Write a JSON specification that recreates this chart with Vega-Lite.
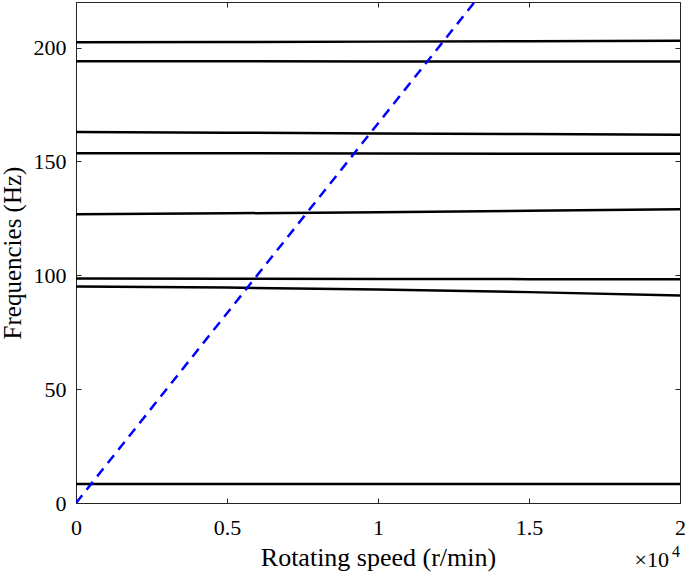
{
  "$schema": "https://vega.github.io/schema/vega-lite/v6.json",
  "width": 604,
  "height": 501,
  "autosize": {"type": "none"},
  "padding": {"left": 76, "top": 2, "right": 5, "bottom": 71},
  "background": "white",
  "config": {
    "view": {"stroke": "#262626", "strokeWidth": 1},
    "font": "Liberation Serif"
  },
  "datasets": {
    "modes": [
      {"mode": "m1", "speed": 0, "freq": 8.3}, {"mode": "m1", "speed": 0.5, "freq": 8.3}, {"mode": "m1", "speed": 1, "freq": 8.3}, {"mode": "m1", "speed": 1.5, "freq": 8.3}, {"mode": "m1", "speed": 2, "freq": 8.3},
      {"mode": "m2", "speed": 0, "freq": 95.1}, {"mode": "m2", "speed": 0.5, "freq": 94.6}, {"mode": "m2", "speed": 1, "freq": 93.8}, {"mode": "m2", "speed": 1.5, "freq": 92.6}, {"mode": "m2", "speed": 2, "freq": 91.1},
      {"mode": "m3", "speed": 0, "freq": 98.6}, {"mode": "m3", "speed": 0.5, "freq": 98.5}, {"mode": "m3", "speed": 1, "freq": 98.4}, {"mode": "m3", "speed": 1.5, "freq": 98.3}, {"mode": "m3", "speed": 2, "freq": 98.2},
      {"mode": "m4", "speed": 0, "freq": 126.8}, {"mode": "m4", "speed": 0.5, "freq": 127.2}, {"mode": "m4", "speed": 1, "freq": 127.7}, {"mode": "m4", "speed": 1.5, "freq": 128.3}, {"mode": "m4", "speed": 2, "freq": 129.0},
      {"mode": "m5", "speed": 0, "freq": 153.6}, {"mode": "m5", "speed": 0.5, "freq": 153.6}, {"mode": "m5", "speed": 1, "freq": 153.5}, {"mode": "m5", "speed": 1.5, "freq": 153.4}, {"mode": "m5", "speed": 2, "freq": 153.4},
      {"mode": "m6", "speed": 0, "freq": 162.9}, {"mode": "m6", "speed": 0.5, "freq": 162.6}, {"mode": "m6", "speed": 1, "freq": 162.3}, {"mode": "m6", "speed": 1.5, "freq": 162.0}, {"mode": "m6", "speed": 2, "freq": 161.7},
      {"mode": "m7", "speed": 0, "freq": 194.0}, {"mode": "m7", "speed": 0.5, "freq": 194.0}, {"mode": "m7", "speed": 1, "freq": 193.9}, {"mode": "m7", "speed": 1.5, "freq": 193.9}, {"mode": "m7", "speed": 2, "freq": 193.9},
      {"mode": "m8", "speed": 0, "freq": 202.3}, {"mode": "m8", "speed": 0.5, "freq": 202.4}, {"mode": "m8", "speed": 1, "freq": 202.6}, {"mode": "m8", "speed": 1.5, "freq": 202.8}, {"mode": "m8", "speed": 2, "freq": 203.0}
    ],
    "excitation": [
      {"speed": 0, "freq": 0},
      {"speed": 1.32, "freq": 220}
    ],
    "base": [
      {"speed": 2, "freq": 0, "label": "×10"}
    ],
    "exponent": [
      {"speed": 2, "freq": 0, "label": "4"}
    ]
  },
  "layer": [
    {
      "data": {"name": "modes"},
      "mark": {"type": "line", "color": "black", "strokeWidth": 2.5, "clip": true},
      "encoding": {
        "x": {"field": "speed", "type": "quantitative", "scale": {"domain": [0, 2], "nice": false},
              "axis": {"orient": "bottom", "values": [0, 0.5, 1, 1.5, 2], "format": "~g", "title": "Rotating speed (r/min)",
                       "grid": false, "domainColor": "#262626", "tickColor": "#262626", "tickSize": -5,
                       "labelFont": "Liberation Serif", "labelFontSize": 22, "labelColor": "black", "labelPadding": 19, "labelFlush": false,
                       "titleFont": "Liberation Serif", "titleFontSize": 26, "titleColor": "black", "titleFontWeight": "normal", "titlePadding": 6}},
        "y": {"field": "freq", "type": "quantitative", "scale": {"domain": [0, 220], "nice": false},
              "axis": {"orient": "left", "values": [0, 50, 100, 150, 200], "title": "Frequencies (Hz)",
                       "grid": false, "domainColor": "#262626", "tickColor": "#262626", "tickSize": -5,
                       "labelFont": "Liberation Serif", "labelFontSize": 22, "labelColor": "black", "labelPadding": 15, "labelFlush": false,
                       "titleFont": "Liberation Serif", "titleFontSize": 25, "titleColor": "black", "titleFontWeight": "normal", "titlePadding": 8}},
        "detail": {"field": "mode"}
      }
    },
    {
      "data": {"name": "excitation"},
      "mark": {"type": "line", "color": "#0000FF", "strokeWidth": 2.5, "strokeDash": [10, 7], "clip": true},
      "encoding": {
        "x": {"field": "speed", "type": "quantitative", "scale": {"domain": [0, 2], "nice": false},
              "axis": {"orient": "top", "values": [0, 0.5, 1, 1.5, 2], "labels": false, "title": null, "domain": false, "grid": false, "tickColor": "#262626", "tickSize": -5}},
        "y": {"field": "freq", "type": "quantitative", "scale": {"domain": [0, 220], "nice": false},
              "axis": {"orient": "right", "values": [0, 50, 100, 150, 200], "labels": false, "title": null, "domain": false, "grid": false, "tickColor": "#262626", "tickSize": -5}}
      }
    },
    {
      "data": {"name": "base"},
      "mark": {"type": "text", "fontSize": 22, "font": "Liberation Serif", "color": "black", "align": "right", "baseline": "top", "dy": 47, "dx": -11, "clip": false},
      "encoding": {
        "x": {"field": "speed", "type": "quantitative", "axis": null},
        "y": {"field": "freq", "type": "quantitative", "axis": null},
        "text": {"field": "label"}
      }
    },
    {
      "data": {"name": "exponent"},
      "mark": {"type": "text", "fontSize": 16, "font": "Liberation Serif", "color": "black", "align": "right", "baseline": "top", "dy": 41, "dx": 0, "clip": false},
      "encoding": {
        "x": {"field": "speed", "type": "quantitative", "axis": null},
        "y": {"field": "freq", "type": "quantitative", "axis": null},
        "text": {"field": "label"}
      }
    }
  ],
  "resolve": {"axis": {"x": "independent", "y": "independent"}}
}
